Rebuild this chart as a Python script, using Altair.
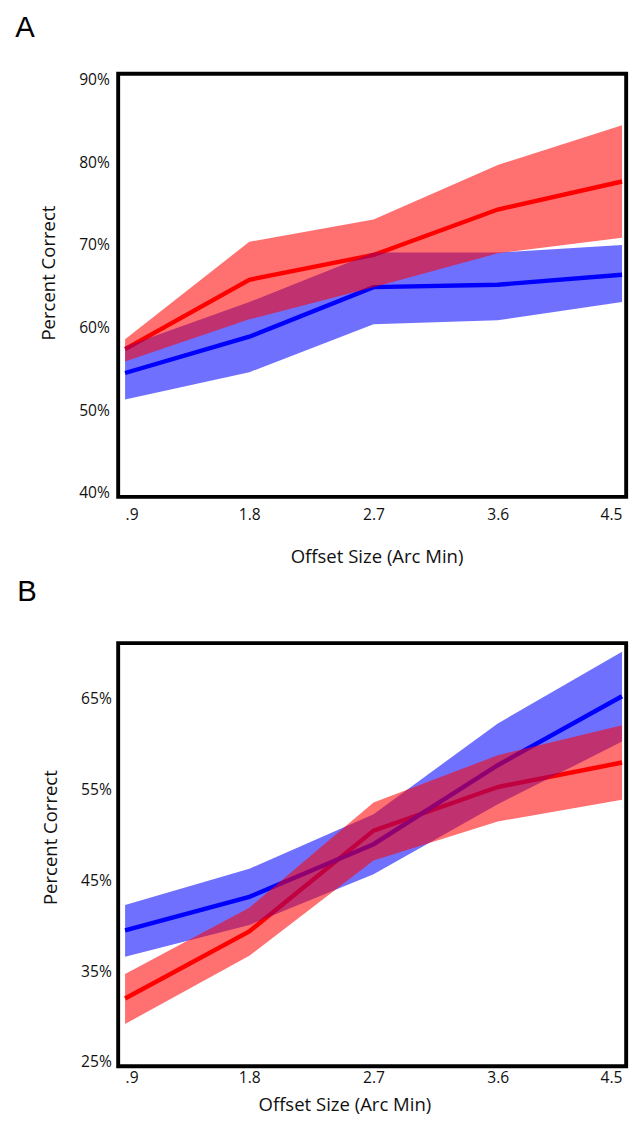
import altair as alt
import pandas as pd

# Offset sizes (arc min)
x_vals = [0.9, 1.8, 2.7, 3.6, 4.5]

# Panel A (percent correct)
a_blue_mean = [54.5, 58.9, 64.9, 65.2, 66.4]
a_blue_lo = [51.3, 54.6, 60.4, 60.9, 63.1]
a_blue_hi = [57.7, 63.1, 69.1, 69.1, 70.0]
a_red_mean = [57.4, 65.8, 68.8, 74.3, 77.7]
a_red_lo = [55.9, 61.0, 64.9, 69.0, 70.9]
a_red_hi = [58.6, 70.4, 73.1, 79.7, 84.5]

# Panel B (percent correct)
b_blue_mean = [39.5, 43.2, 49.0, 57.7, 65.3]
b_blue_lo = [36.6, 40.1, 45.7, 53.4, 60.3]
b_blue_hi = [42.3, 46.3, 52.3, 62.3, 70.2]
b_red_mean = [32.0, 39.4, 50.5, 55.3, 58.0]
b_red_lo = [29.2, 36.7, 47.2, 51.5, 53.9]
b_red_hi = [34.7, 42.0, 53.6, 58.8, 62.1]

a_yticks = [40, 50, 60, 70, 80, 90]
b_yticks = [25, 35, 45, 55, 65]

FONT = "Open Sans"
LETTER_FONT = "Liberation Sans"


def build_df(bm, bl, bh, rm, rl, rh):
    rows = []
    for s, m, lo, hi in (("blue", bm, bl, bh), ("red", rm, rl, rh)):
        for xi, mi, li, hii in zip(x_vals, m, lo, hi):
            rows.append({"x": xi, "mean": mi, "lo": li, "hi": hii, "series": s})
    return pd.DataFrame(rows)


def panel(df, letter, ydom, yticks, xlab_pad, xtitle_pad, xtitle_x, ylab_pad, ytitle_y, title_off):
    xscale = alt.Scale(domain=[0.85, 4.53], nice=False, zero=False)
    yscale = alt.Scale(domain=ydom, nice=False, zero=False)
    xaxis = alt.Axis(
        values=x_vals,
        labelExpr="datum.value == 0.9 ? '.9' : format(datum.value, '.1f')",
        labelFlush=12,
        title="Offset Size (Arc Min)",
        grid=False, ticks=False, domain=False, tickSize=0,
        labelPadding=xlab_pad, titlePadding=xtitle_pad, titleX=xtitle_x,
        labelFont=FONT, labelFontSize=16, labelColor="#111",
        titleFont=FONT, titleFontSize=19, titleFontWeight="normal", titleColor="#111",
    )
    yaxis = alt.Axis(
        values=yticks,
        labelExpr="datum.value + '%'",
        title="Percent Correct",
        grid=False, ticks=False, domain=False, tickSize=0,
        labelPadding=ylab_pad, titlePadding=21, titleY=ytitle_y,
        labelFont=FONT, labelFontSize=16, labelColor="#111",
        titleFont=FONT, titleFontSize=19, titleFontWeight="normal", titleColor="#111",
    )
    base = alt.Chart(df)
    layers = []
    for s, c in (("red", "#ff0000"), ("blue", "#0000ff")):
        layers.append(
            base.transform_filter(alt.datum.series == s)
            .mark_line(color=c, strokeWidth=4.5)
            .encode(
                x=alt.X("x:Q", scale=xscale, axis=xaxis),
                y=alt.Y("mean:Q", scale=yscale, axis=yaxis),
            )
        )
    for s, c in (("blue", "#0000ff"), ("red", "#ff0000")):
        layers.append(
            base.transform_filter(alt.datum.series == s)
            .mark_area(color=c, opacity=0.56)
            .encode(
                x=alt.X("x:Q", scale=xscale, axis=xaxis),
                y=alt.Y("lo:Q", scale=yscale, axis=yaxis),
                y2="hi:Q",
            )
        )
    return alt.layer(*layers).properties(
        width=521,
        height=434,
        title=alt.TitleParams(
            letter, anchor="start", fontSize=30, font=LETTER_FONT, fontWeight="normal",
            color="#000", dx=-25, offset=title_off, frame="bounds",
        ),
    )


df_a = build_df(a_blue_mean, a_blue_lo, a_blue_hi, a_red_mean, a_red_lo, a_red_hi)
df_b = build_df(b_blue_mean, b_blue_lo, b_blue_hi, b_red_mean, b_red_lo, b_red_hi)

pa = panel(df_a, "A", [39.5, 90.76], a_yticks, 10, 26, 265, 9, 204, 30)
pb = panel(df_b, "B", [24.54, 71.15], b_yticks, 4, 10, 232, 7, 199, 37)

chart = (
    alt.vconcat(pa, pb, spacing=8)
    .properties(padding={"left": 5, "top": -11, "right": 0, "bottom": 0}, background="white")
    .configure_view(stroke="#000", strokeWidth=4)
)

chart.save("out.html", embed_options={"renderer": "svg", "actions": False})
